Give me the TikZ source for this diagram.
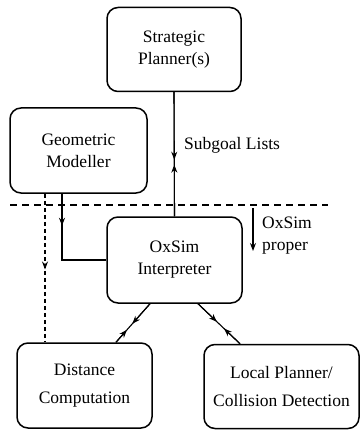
\documentclass[tikz,border=0pt]{standalone}
\usepackage{fontspec}
\setmainfont{Liberation Serif}
\usetikzlibrary{arrows.meta,decorations.markings,calc}
\begin{document}
\begin{tikzpicture}[x=1pt,y=-1pt,
  box/.style={draw, line width=1.5pt, rounded corners=11pt, align=center,
    inner sep=0pt, font=\fontsize{17.5}{22}\selectfont},
  wide/.style={font=\fontsize{17.5}{28}\selectfont},
  wire/.style={line width=1.1pt},
  lbl/.style={inner sep=0pt, anchor=west, align=left, font=\fontsize{17.5}{22}\selectfont},
  tipend/.style={-{Stealth[length=8pt,width=6pt]}},
  midarrow/.style={postaction={decorate}, decoration={markings,
    mark=at position #1 with {\arrow[solid]{Stealth[length=8pt,width=6pt]}}}},
]
\useasboundingbox (0,0) rectangle (360,430);

% modules
\node[box, minimum width=134pt, minimum height=84pt] (sp) at (174,49.5) {Strategic\\Planner(s)};
\node[box, minimum width=137pt, minimum height=85pt] (gm) at (78.5,150.5) {Geometric\\Modeller};
\node[box, minimum width=135pt, minimum height=86pt] (ox) at (174.5,260) {OxSim\\Interpreter};
\node[box, wide, minimum width=135pt, minimum height=85pt] (dc) at (84.5,385.5) {Distance\\Computation};
\node[box, wide, minimum width=155pt, minimum height=84pt] (lp) at (281.5,386.5) {Local Planner/\\Collision Detection};

% boundary of OxSim proper
\coordinate (hl) at (10,205);
\coordinate (hr) at (328,205);
\draw[wire, dash pattern=on 7pt off 5pt] (hl) -- (hr);
\coordinate (pa) at (253,208);
\coordinate (pb) at (253,251);
\draw[wire, tipend] (pa) -- (pb);
\node[lbl] (proper) at (262,236) {OxSim\\proper};

% two-way links: a line with a head from each end meeting near the middle
\newcommand{\twoway}[4]{%
  \draw[wire] #1 -- #2;
  \draw[wire, tipend] #1 -- ($#1!#3!#2$);
  \draw[wire, tipend] #2 -- ($#1!#4!#2$);
}
\twoway{(sp.south)}{(ox.north)}{0.544}{0.584}
\node[lbl] (subgoal) at (184,145) {Subgoal Lists};
\twoway{([xshift=-24.5pt]ox.south)}{([xshift=31.5pt]dc.north)}{0.52}{0.68}
\twoway{([xshift=23.5pt]ox.south)}{([xshift=-41.5pt]lp.north)}{0.45}{0.62}

% model data feeds
\draw[wire, midarrow=0.29] ([xshift=-16.5pt]gm.south) |- (ox.west);
\draw[wire, dash pattern=on 4pt off 3pt, midarrow=0.51] ([xshift=-33.5pt]gm.south) -- ([xshift=-39.5pt]dc.north);
\end{tikzpicture}
\end{document}
